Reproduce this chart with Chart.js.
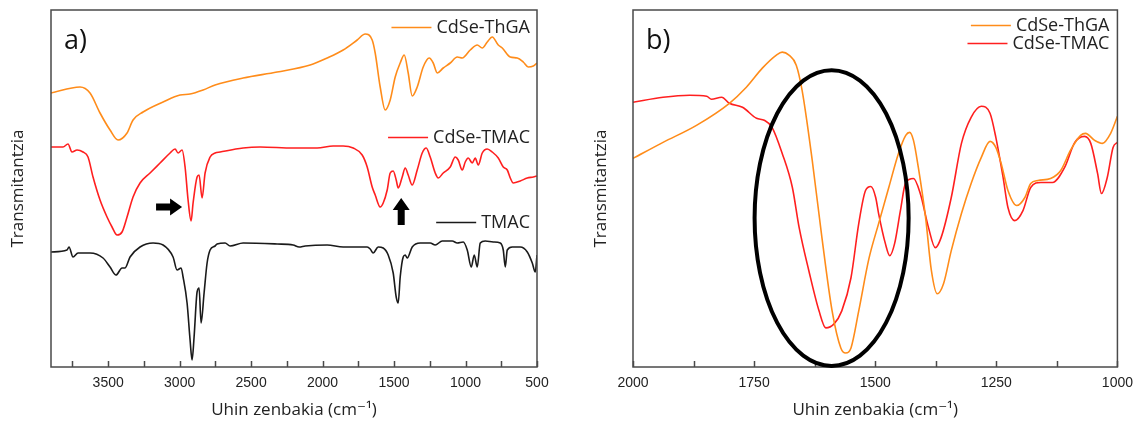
<!DOCTYPE html>
<html>
<head>
<meta charset="utf-8">
<title>FTIR espektroak</title>
<script src="https://cdn.jsdelivr.net/npm/chart.js@4.4.1/dist/chart.umd.min.js"></script>
<style>
  body { margin: 0; background: #fff; }
  .panel { position: absolute; top: 0; height: 423px; }
</style>
</head>
<body>
<div class="panel" style="left:0;width:575px"><canvas id="chartA"></canvas></div>
<div class="panel" style="left:575px;width:566px"><canvas id="chartB"></canvas></div>
<script>
// a) full range spectra (cm-1 / transmittance, arbitrary units)
const thgaWnA = [3900,3697,3627,3557,3487,3431,3368,3326,3256,3116,2997,2927,2836,2752,2556,2318,2087,1968,1856,1758,1702,1653,1632,1597,1562,1527,1492,1457,1429,1401,1373,1338,1296,1254,1226,1198,1156,1107,1058,1023,967,918,883,848,813,771,743,687,638,596,561,526,500];
const thgaTA = [274,280,274,254,237,227,234,247,255,265,272,273,277,282,289,295,302,309,317,327,333,327,314,280,257,267,290,304,312,294,271,280,300,309,304,294,299,304,310,309,317,322,319,325,330,322,319,310,309,305,300,301,304];

const cdTmacWnA = [3900,3816,3781,3753,3718,3676,3641,3606,3557,3508,3473,3438,3403,3368,3326,3277,3207,3137,3067,3032,3011,2983,2962,2941,2920,2906,2878,2864,2843,2822,2787,2752,2717,2556,2437,2206,2038,1926,1856,1786,1723,1688,1653,1632,1597,1576,1548,1527,1506,1485,1471,1443,1422,1401,1373,1338,1303,1275,1247,1212,1191,1156,1107,1072,1051,1023,1002,981,953,932,911,883,848,813,771,736,708,687,666,617,568,526,500];
const cdTmacTA = [220,220,223,215,217,215,210,190,167,150,140,132,135,150,170,184,194,204,214,218,214,217,200,167,146,164,190,192,169,194,210,214,215,219,220,219,219,221,221,219,212,200,180,172,160,164,177,194,196,187,179,190,199,192,182,197,214,219,210,194,189,194,200,210,207,197,205,209,204,209,202,214,218,215,209,200,197,189,184,186,189,190,191];

const tmacWnA = [3900,3788,3774,3746,3711,3627,3536,3487,3445,3403,3382,3347,3277,3186,3116,3046,3018,2990,2976,2948,2927,2913,2899,2878,2864,2850,2829,2808,2787,2752,2738,2682,2647,2556,2318,2206,2164,2122,1968,1856,1688,1667,1646,1611,1576,1541,1506,1485,1471,1457,1436,1422,1408,1373,1317,1247,1212,1163,1093,1058,1016,988,960,939,918,897,862,806,757,736,722,708,673,617,568,533,512,500];
const tmacTA = [115,117,120,110,114,114,109,100,92,99,99,110,120,124,122,110,97,99,90,64,27,7,30,75,79,44,74,104,117,121,123,124,121,124,123,122,120,121,122,120,120,118,114,120,119,112,94,70,64,90,110,112,109,120,124,124,122,126,126,124,125,117,100,112,100,124,126,125,124,117,100,117,120,120,115,104,95,112];

// b) 2000-1000 cm-1 detail
const thgaWnB = [2000,1938,1869,1801,1766,1733,1704,1692,1678,1663,1651,1630,1610,1589,1571,1561,1550,1534,1513,1493,1472,1452,1437,1429,1421,1411,1396,1384,1372,1359,1343,1322,1302,1281,1263,1251,1240,1226,1208,1191,1179,1164,1138,1117,1097,1076,1066,1047,1031,1014,1000];
const thgaTB = [208,224,241,263,279,298,311,314,311,301,276,206,129,56,19,14,19,56,108,143,179,213,231,234,226,199,149,96,73,83,116,153,183,209,225,219,203,176,161,169,183,186,188,196,216,231,233,226,223,233,250];

const cdTmacWnB = [2000,1938,1883,1848,1838,1817,1801,1774,1745,1729,1713,1692,1671,1657,1637,1616,1602,1585,1569,1550,1534,1520,1509,1499,1493,1479,1470,1460,1448,1437,1421,1407,1390,1376,1364,1343,1322,1302,1281,1263,1251,1236,1226,1212,1195,1179,1158,1134,1109,1088,1068,1055,1041,1033,1021,1009,1000];
const cdTmacTB = [264,269,271,270,267,269,263,259,248,246,239,213,179,139,96,56,39,43,56,89,143,176,180,169,153,123,111,123,156,184,188,173,139,119,129,169,223,249,260,253,229,189,159,146,156,179,184,184,199,224,230,223,193,173,189,219,224];

// labelled wavenumbers on each x axis
const ticksA = [3500, 3000, 2500, 2000, 1500, 1000, 500];
const ticksB = [2000, 1750, 1500, 1250, 1000];

const xTitle = 'Uhin zenbakia (cm\u207B\u00B9)';
const yTitle = 'Transmitantzia';
const orange = '#ff8c1a';
const red = '#ff1f1f';
const black = '#1a1a1a';
const textFont = '"Open Sans", "DejaVu Sans", sans-serif';

function points(wn, t) {
  return wn.map((w, i) => ({ x: w, y: t[i] }));
}

// closed box around the plot area, tick marks pointing inwards
const frame = {
  id: 'frame',
  afterDatasetsDraw(chart, args, opts) {
    const { ctx, chartArea: a, scales: { x } } = chart;
    ctx.save();
    ctx.strokeStyle = '#4a4a4a';
    ctx.lineWidth = 1.5;
    ctx.strokeRect(a.left, a.top, a.right - a.left, a.bottom - a.top);
    for (let v = x.min; v <= x.max; v += opts.minor) {
      const px = Math.round(x.getPixelForValue(v)) + 0.5;
      ctx.beginPath();
      ctx.moveTo(px, a.bottom);
      ctx.lineTo(px, a.bottom - 6);
      ctx.stroke();
    }
    ctx.restore();
  }
};

function arrow(ctx, x0, y0, x1, y1, shaft, head, headLen) {
  const ang = Math.atan2(y1 - y0, x1 - x0);
  const len = Math.hypot(x1 - x0, y1 - y0);
  ctx.save();
  ctx.translate(x0, y0);
  ctx.rotate(ang);
  ctx.beginPath();
  ctx.moveTo(0, -shaft);
  ctx.lineTo(len - headLen, -shaft);
  ctx.lineTo(len - headLen, -head);
  ctx.lineTo(len, 0);
  ctx.lineTo(len - headLen, head);
  ctx.lineTo(len - headLen, shaft);
  ctx.lineTo(0, shaft);
  ctx.closePath();
  ctx.fill();
  ctx.restore();
}

// panel letter, in-plot keys, arrows and the highlight ellipse
const notes = {
  id: 'notes',
  afterDatasetsDraw(chart, args, opts) {
    const { ctx, chartArea: a, scales: { x, y } } = chart;
    ctx.save();
    ctx.fillStyle = '#111';
    ctx.font = '27px ' + textFont;
    ctx.textAlign = 'left';
    ctx.textBaseline = 'middle';
    ctx.fillText(opts.letter, a.left + 13, a.top + 31);

    ctx.font = '18px ' + textFont;
    ctx.textAlign = 'right';
    for (const k of opts.keys) {
      const ty = Math.round(y.getPixelForValue(k.at)) + 0.5;
      const tx = a.right - opts.keyInset;
      const w = ctx.measureText(k.label).width;
      ctx.fillStyle = '#222';
      ctx.fillText(k.label, tx, ty);
      ctx.strokeStyle = k.color;
      ctx.lineWidth = 1.6;
      ctx.beginPath();
      ctx.moveTo(tx - w - 45, ty);
      ctx.lineTo(tx - w - 5, ty);
      ctx.stroke();
    }

    ctx.fillStyle = '#000';
    for (const ar of opts.arrows || []) {
      arrow(ctx,
        x.getPixelForValue(ar.from[0]), y.getPixelForValue(ar.from[1]),
        x.getPixelForValue(ar.to[0]), y.getPixelForValue(ar.to[1]),
        3.5, 8.5, 12);
    }

    if (opts.ellipse) {
      const e = opts.ellipse;
      const cx = x.getPixelForValue(e.center[0]);
      const cy = y.getPixelForValue(e.center[1]);
      const rx = Math.abs(x.getPixelForValue(e.center[0] + e.radius[0]) - cx);
      const ry = Math.abs(y.getPixelForValue(e.center[1] + e.radius[1]) - cy);
      ctx.strokeStyle = '#000';
      ctx.lineWidth = 4;
      ctx.beginPath();
      ctx.ellipse(cx, cy, rx, ry, 0, 0, Math.PI * 2);
      ctx.stroke();
    }
    ctx.restore();
  }
};

function spectrum(label, wn, t, color) {
  return {
    label: label,
    data: points(wn, t),
    borderColor: color,
    borderWidth: 1.6,
    pointRadius: 0,
    cubicInterpolationMode: 'monotone',
    fill: false
  };
}

function panelOptions(cfg) {
  return {
    animation: false,
    responsive: true,
    maintainAspectRatio: false,
    events: [],
    layout: { padding: { top: 10, right: cfg.right, left: 0, bottom: 0 } },
    plugins: {
      legend: { display: false },
      tooltip: { enabled: false },
      frame: { minor: cfg.minor },
      notes: cfg.notes
    },
    scales: {
      x: {
        type: 'linear',
        reverse: true,
        min: cfg.xmin,
        max: cfg.xmax,
        grid: { display: false, drawTicks: false },
        border: { display: false },
        afterBuildTicks(s) { s.ticks = cfg.tickValues.map(v => ({ value: v })); },
        ticks: {
          padding: 8,
          color: '#222',
          autoSkip: false,
          maxRotation: 0,
          callback: v => String(v),
          font: { family: '"Liberation Sans", Arial, sans-serif', size: 14 }
        },
        title: {
          display: true,
          text: xTitle,
          color: '#222',
          padding: { top: 0, bottom: 3 },
          font: { family: textFont, size: 17 }
        },
        afterFit(s) { s.height = 56; }
      },
      y: {
        min: 0,
        max: cfg.ymax,
        grid: { display: false, drawTicks: false },
        border: { display: false },
        ticks: { display: false },
        title: {
          display: true,
          text: yTitle,
          color: '#222',
          padding: { top: cfg.yTitlePad, bottom: 0 },
          font: { family: textFont, size: 17 }
        },
        afterFit(s) { s.width = cfg.yWidth; }
      }
    }
  };
}

new Chart(document.getElementById('chartA'), {
  type: 'line',
  data: {
    datasets: [
      spectrum('CdSe-ThGA', thgaWnA, thgaTA, orange),
      spectrum('CdSe-TMAC', cdTmacWnA, cdTmacTA, red),
      spectrum('TMAC', tmacWnA, tmacTA, black)
    ]
  },
  options: panelOptions({
    xmin: 500, xmax: 3900, tickValues: ticksA, minor: 250, ymax: 357,
    right: 38, yWidth: 51, yTitlePad: 8,
    notes: {
      letter: 'a)',
      keyInset: 7,
      keys: [
        { label: 'CdSe-ThGA', color: orange, at: 340 },
        { label: 'CdSe-TMAC', color: red, at: 230 },
        { label: 'TMAC', color: black, at: 145 }
      ],
      arrows: [
        { from: [3165, 160], to: [2983, 160] },
        { from: [1450, 142], to: [1450, 169] }
      ]
    }
  }),
  plugins: [frame, notes]
});

new Chart(document.getElementById('chartB'), {
  type: 'line',
  data: {
    datasets: [
      spectrum('CdSe-ThGA', thgaWnB, thgaTB, orange),
      spectrum('CdSe-TMAC', cdTmacWnB, cdTmacTB, red)
    ]
  },
  options: panelOptions({
    xmin: 1000, xmax: 2000, tickValues: ticksB, minor: 125, ymax: 356,
    right: 21, yWidth: 58, yTitlePad: 16,
    notes: {
      letter: 'b)',
      keyInset: 8,
      keys: [
        { label: 'CdSe-ThGA', color: orange, at: 341 },
        { label: 'CdSe-TMAC', color: red, at: 323 }
      ],
      ellipse: { center: [1590, 148.5], radius: [159, 147.5] }
    }
  }),
  plugins: [frame, notes]
});
</script>
</body>
</html>
